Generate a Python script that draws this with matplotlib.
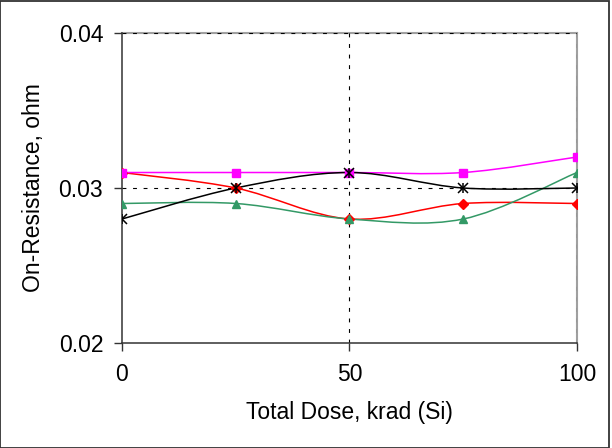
import numpy as np
import matplotlib
matplotlib.use("Agg")
import matplotlib.pyplot as plt
from matplotlib.path import Path
from matplotlib.patches import PathPatch

plt.rcParams['font.family'] = ['Liberation Sans', 'DejaVu Sans']

dose = [0, 25, 50, 75, 100]
res_red = [0.031, 0.030, 0.028, 0.029, 0.029]
res_green = [0.029, 0.029, 0.028, 0.028, 0.031]
res_magenta = [0.031, 0.031, 0.031, 0.031, 0.032]
res_black = [0.028, 0.030, 0.031, 0.030, 0.030]

xticks = [0, 50, 100]
yticks = [0.02, 0.03, 0.04]
ytick_labels = ['0.02', '0.03', '0.04']


def smooth_path(x, y):
    # Excel-like smoothed line: cubic Bezier segments through the points
    p = np.column_stack([x, y]).astype(float)
    n = len(p)
    verts = [p[0]]
    codes = [Path.MOVETO]
    for i in range(n - 1):
        p0 = p[i - 1] if i > 0 else p[i]
        p3 = p[i + 2] if i + 2 < n else p[i + 1]
        c1 = p[i] + (p[i + 1] - p0) / 6.0
        c2 = p[i + 1] - (p3 - p[i]) / 6.0
        verts += [c1, c2, p[i + 1]]
        codes += [Path.CURVE4] * 3
    return Path(verts, codes)


fig = plt.figure(figsize=(6.12, 4.48), dpi=100)
ax = fig.add_axes([0.1993, 0.2344, 0.7435, 0.6919])

series = [
    (res_red, '#FF0000', 'D', 5.0),
    (res_green, '#339966', '^', 6.0),
    (res_magenta, '#FF00FF', 's', 5.8),
    (res_black, '#000000', None, 7.0),
]
for vals, col, mk, ms in series:
    ax.add_patch(PathPatch(smooth_path(dose, vals), fill=False, edgecolor=col,
                           lw=1.1, zorder=3))
    if mk is not None:
        ax.plot(dose, vals, ls='none', marker=mk, color=col, ms=ms, zorder=4)
    else:
        ax.plot(dose, vals, ls='none', marker='x', color=col, ms=ms, mew=1.1, zorder=4)
        ax.plot(dose, vals, ls='none', marker='|', color=col, ms=ms, mew=1.1, zorder=4)

ax.set_xlim(0, 100)
ax.set_ylim(0.02, 0.04)
ax.set_xticks(xticks)
ax.set_yticks(yticks)
ax.set_yticklabels(ytick_labels)
ax.tick_params(axis='both', direction='out', length=5.5, width=1.0,
               labelsize=16.5, color='#333333')
ax.tick_params(axis='x', pad=9)
ax.tick_params(axis='y', pad=8)

ax.grid(True, color='black', lw=0.8, linestyle=(0, (3.5, 6)), zorder=1)
ax.set_axisbelow(True)
ax.xaxis.get_gridlines()[0].set_visible(False)
ax.yaxis.get_gridlines()[0].set_visible(False)

for side in ['top', 'right']:
    ax.spines[side].set_color('#a0a0a0')
    ax.spines[side].set_linewidth(1.5)
    ax.spines[side].set_zorder(0.5)
for side in ['left', 'bottom']:
    ax.spines[side].set_color('#333333')
    ax.spines[side].set_linewidth(1.1)

ax.set_xlabel('Total Dose, krad (Si)', fontsize=16.5, labelpad=11)
ax.set_ylabel('On-Resistance, ohm', fontsize=16.5, labelpad=10)

# outer chart frame
fig.patches.append(plt.Rectangle((0.0008, 0.0), 0.9935, 0.9985, transform=fig.transFigure,
                                 fill=False, edgecolor='#333333', lw=1.3))

fig.savefig('out.png', dpi=100)
